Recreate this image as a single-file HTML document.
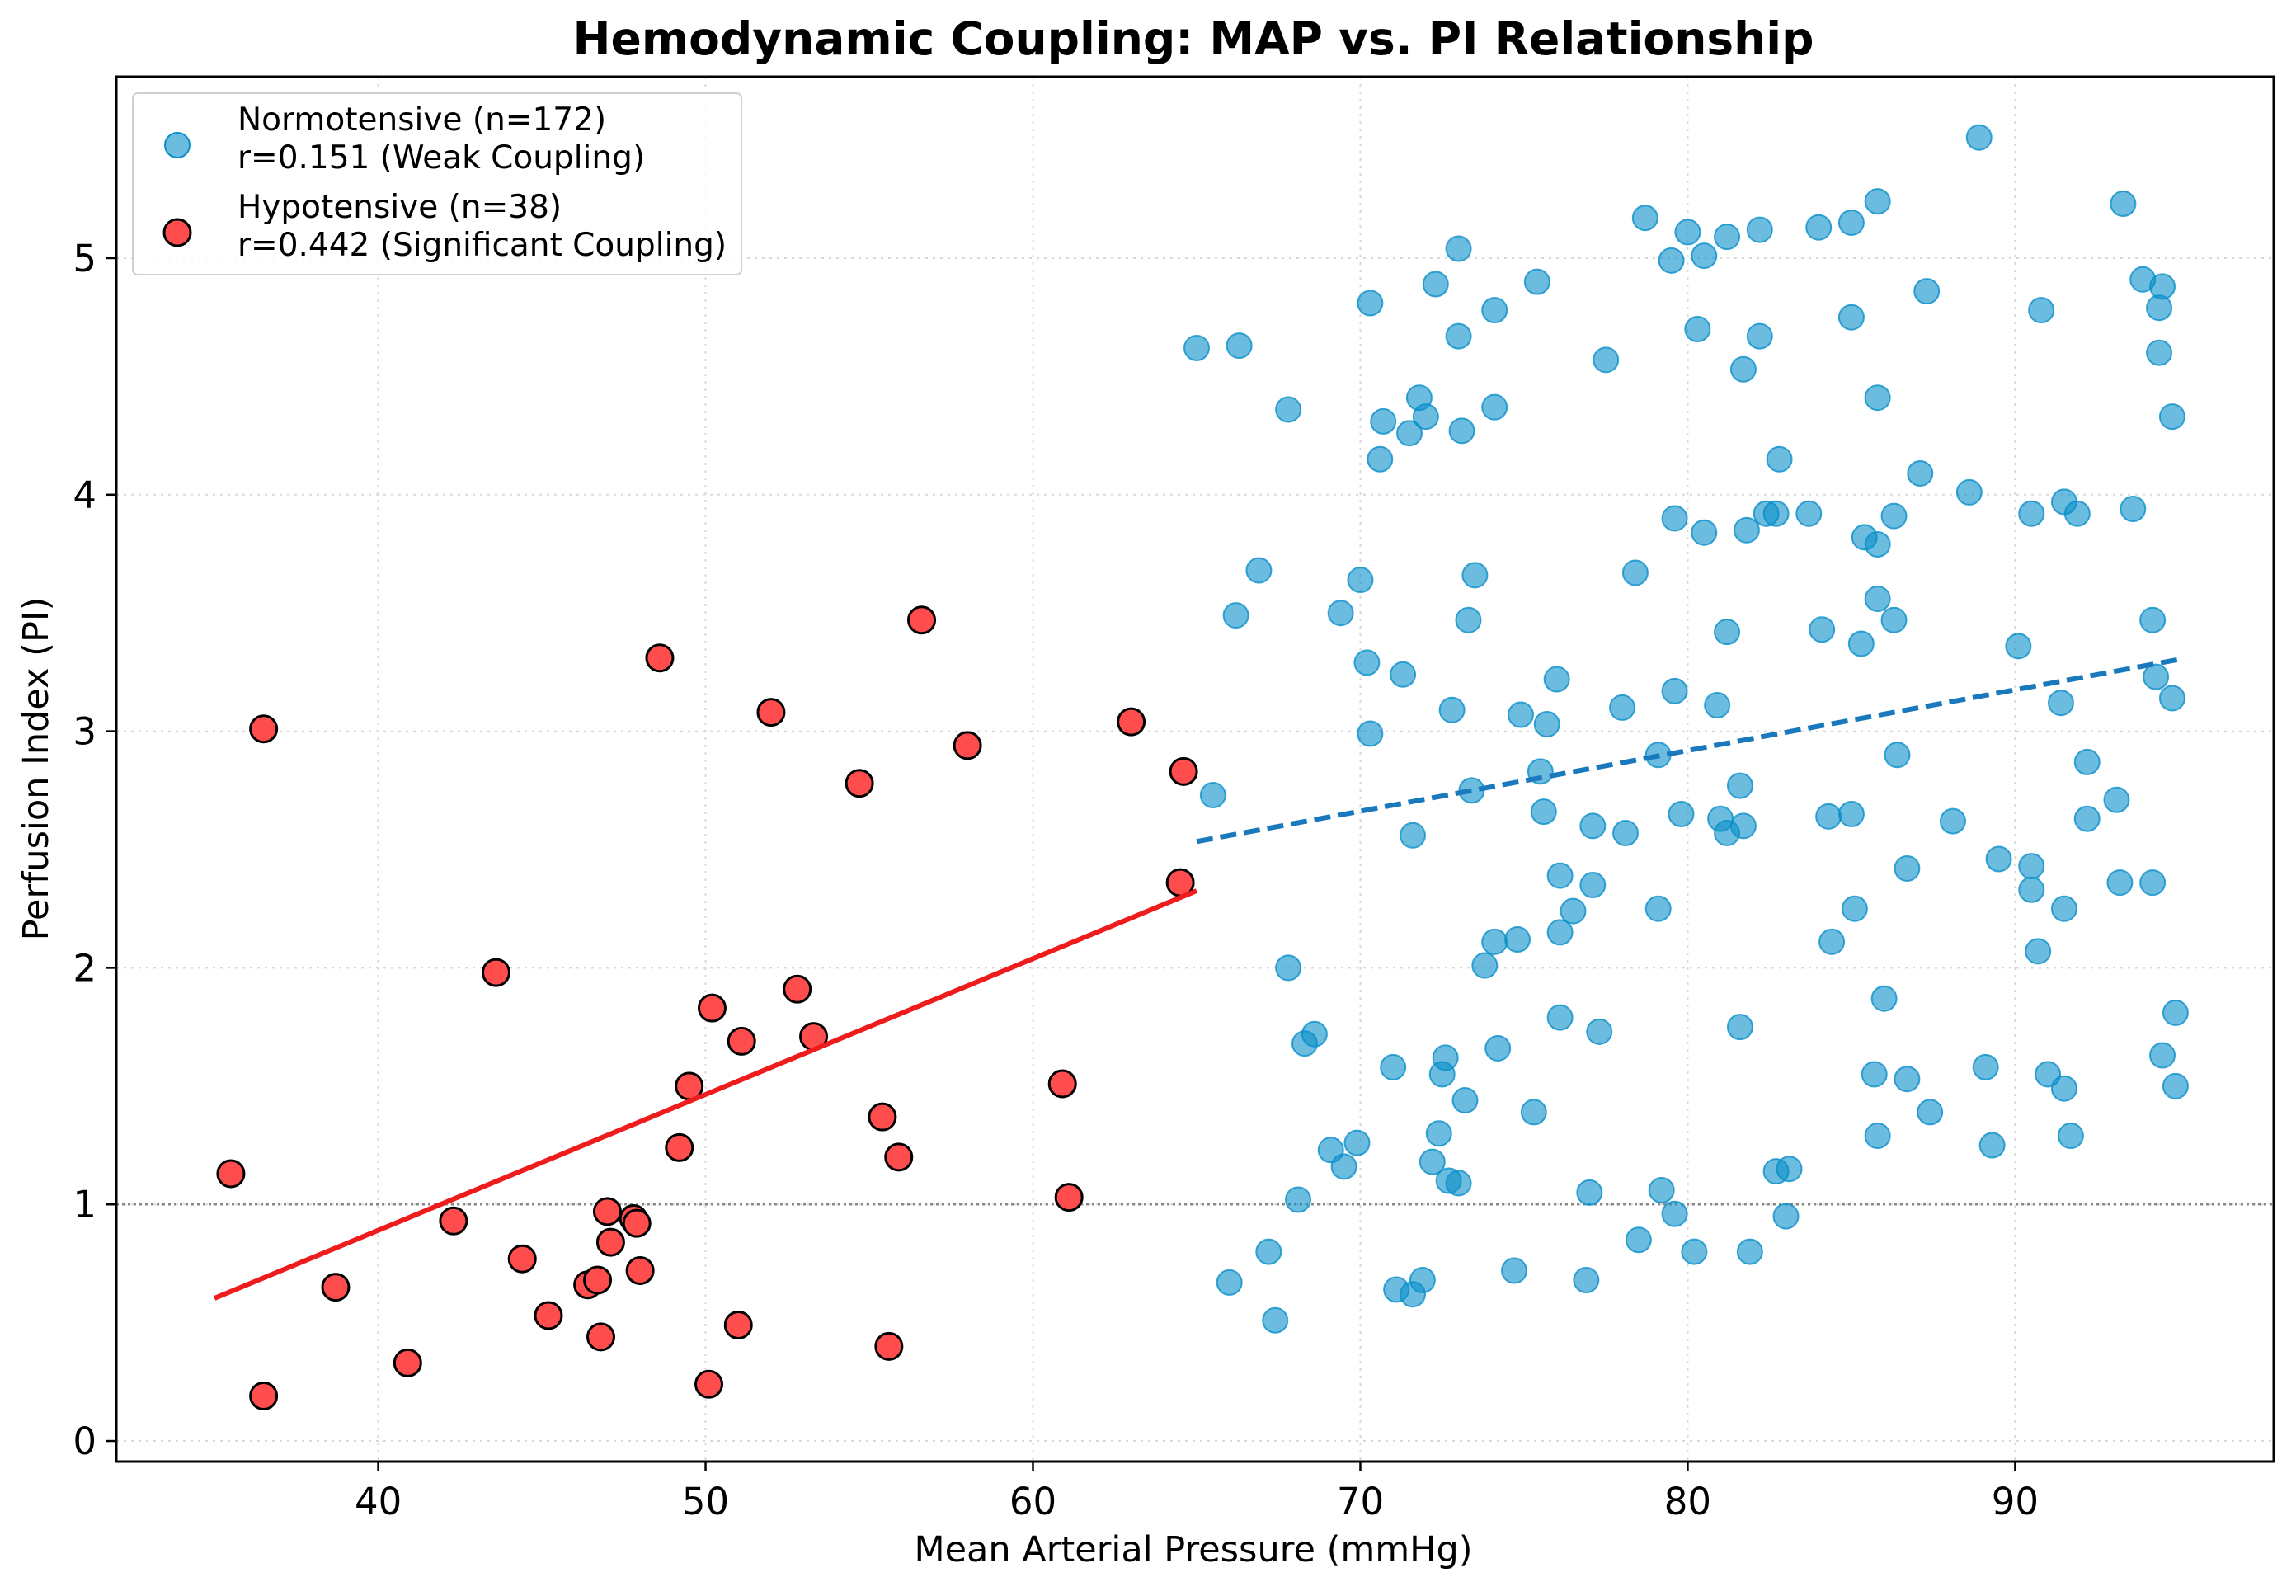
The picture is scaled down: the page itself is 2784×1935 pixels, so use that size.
<!DOCTYPE html>
<html><head><meta charset="utf-8"><style>
html,body{margin:0;padding:0;background:#fff}
svg{display:block;font-family:"DejaVu Sans","Liberation Sans",sans-serif}
</style></head><body>
<svg id="chart" width="2784" height="1935" viewBox="0 0 2784 1935">
<rect x="0" y="0" width="2784" height="1935" fill="#fff"/>
<g id="grid"></g>
<g id="marks"></g>
<g id="axes"></g>
<text x="1447" y="66" text-anchor="middle" font-size="55" font-weight="bold">Hemodynamic Coupling: MAP vs. PI Relationship</text>
<text x="1447" y="1893" text-anchor="middle" font-size="43">Mean Arterial Pressure (mmHg)</text>
<text x="0" y="0" transform="translate(58,932) rotate(-90)" text-anchor="middle" font-size="43">Perfusion Index (PI)</text>
<g>
<rect x="161" y="113" width="738" height="220" rx="6" fill="#fff" fill-opacity="0.85" stroke="#d0d0d0" stroke-width="2"/>
<circle cx="215" cy="176" r="15" fill="#0a8fc9" fill-opacity="0.6" stroke="#0a8fc9" stroke-width="2"/>
<text x="288" y="158" font-size="39">Normotensive (n=172)</text>
<text x="288" y="204" font-size="39">r=0.151 (Weak Coupling)</text>
<circle cx="215" cy="282" r="16" fill="#ff4d4d" stroke="#000" stroke-width="3"/>
<text x="288" y="264" font-size="39">Hypotensive (n=38)</text>
<text x="288" y="310" font-size="39">r=0.442 (Significant Coupling)</text>
</g>
</svg>
<script>
const xTicks=[40,50,60,70,80,90];
const yTicks=[0,1,2,3,4,5];
const redX=[35.5,36.5,36.5,38.7,40.9,42.3,43.6,44.4,45.2,46.4,46.7,46.8,47.0,47.1,47.8,47.9,48.0,48.6,49.2,49.5,50.1,50.2,51.0,51.1,52.0,52.8,53.3,54.7,55.4,55.6,55.9,56.6,58.0,60.9,61.1,63.0,64.5,64.6];
const redY=[1.13,3.01,0.19,0.65,0.33,0.93,1.98,0.77,0.53,0.66,0.68,0.44,0.97,0.84,0.94,0.92,0.72,3.31,1.24,1.50,0.24,1.83,0.49,1.69,3.08,1.91,1.71,2.78,1.37,0.40,1.20,3.47,2.94,1.51,1.03,3.04,2.36,2.83];
const blueX=[65.0,66.3,67.8,65.5,66.2,66.9,66.0,67.2,67.4,67.8,68.1,68.3,68.6,69.1,69.4,69.5,69.9,70.0,70.2,70.3,70.3,70.6,70.7,71.0,71.1,71.3,71.5,71.6,71.6,71.8,71.9,72.0,72.2,72.3,72.4,72.5,72.6,72.7,72.8,73.0,73.0,73.0,73.1,73.2,73.3,73.4,73.5,73.8,74.1,74.1,74.1,74.2,74.8,74.7,74.9,75.3,75.4,75.5,75.6,75.7,76.0,76.1,76.1,76.1,76.5,76.9,77.0,77.1,77.1,77.3,77.5,78.0,78.1,78.4,78.5,78.7,79.1,79.1,79.2,79.5,79.6,79.6,79.6,79.8,80.0,80.2,80.3,80.5,80.5,80.9,81.0,81.2,81.2,81.2,81.6,81.6,81.7,81.7,81.8,81.9,82.2,82.2,82.4,82.7,82.7,82.8,83.0,83.1,83.7,84.0,84.1,84.3,84.4,85.0,85.0,85.0,85.1,85.3,85.4,85.7,85.8,85.8,85.8,85.8,85.8,86.0,86.3,86.4,86.3,86.7,86.7,87.1,87.3,87.4,88.1,88.6,88.9,89.1,89.3,89.5,90.1,90.5,90.5,90.5,90.7,90.8,91.0,91.4,91.5,91.5,91.5,91.7,91.9,92.2,92.2,93.1,93.2,93.3,93.6,93.9,94.2,94.2,94.3,94.4,94.4,94.5,94.5,94.8,94.8,94.9,94.9];
const blueY=[4.62,4.63,4.36,2.73,3.49,3.68,0.67,0.80,0.51,2.00,1.02,1.68,1.72,1.23,3.50,1.16,1.26,3.64,3.29,4.81,2.99,4.15,4.31,1.58,0.64,3.24,4.26,0.62,2.56,4.41,0.68,4.33,1.18,4.89,1.30,1.55,1.62,1.10,3.09,4.67,1.09,5.04,4.27,1.44,3.47,2.75,3.66,2.01,2.11,4.78,4.37,1.66,2.12,0.72,3.07,1.39,4.90,2.83,2.66,3.03,3.22,2.39,1.79,2.15,2.24,0.68,1.05,2.60,2.35,1.73,4.57,3.10,2.57,3.67,0.85,5.17,2.90,2.25,1.06,4.99,3.90,3.17,0.96,2.65,5.11,0.80,4.70,5.01,3.84,3.11,2.63,2.57,5.09,3.42,2.77,1.75,4.53,2.60,3.85,0.80,5.12,4.67,3.92,3.92,1.14,4.15,0.95,1.15,3.92,5.13,3.43,2.64,2.11,5.15,4.75,2.65,2.25,3.37,3.82,1.55,5.24,4.41,3.79,3.56,1.29,1.87,3.47,2.90,3.91,2.42,1.53,4.09,4.86,1.39,2.62,4.01,5.51,1.58,1.25,2.46,3.36,3.92,2.43,2.33,2.07,4.78,1.55,3.12,3.97,1.49,2.25,1.29,3.92,2.87,2.63,2.71,2.36,5.23,3.94,4.91,2.36,3.47,3.23,4.79,4.60,4.88,1.63,4.33,3.14,1.81,1.50];
const redFitRange=[35,65];
const blueFitRange=[65,95];

const NS="http://www.w3.org/2000/svg";
const L=141,R=2757,T=93,B=1772;
const xMin=32.0,xMax=97.9,yMin=-0.087,yMax=5.767;
function sx(v){return L+(v-xMin)/(xMax-xMin)*(R-L);}
function sy(v){return B-(v-yMin)/(yMax-yMin)*(B-T);}
function mk(tag,attrs,parent){const e=document.createElementNS(NS,tag);for(const k in attrs)e.setAttribute(k,attrs[k]);parent.appendChild(e);return e;}
function fit(xs,ys){const n=xs.length;let mx=0,my=0;for(let i=0;i<n;i++){mx+=xs[i];my+=ys[i];}mx/=n;my/=n;let sxy=0,sxx=0;for(let i=0;i<n;i++){sxy+=(xs[i]-mx)*(ys[i]-my);sxx+=(xs[i]-mx)**2;}const b=sxy/sxx;return [b,my-b*mx];}

const grid=document.getElementById('grid'),axes=document.getElementById('axes'),marks=document.getElementById('marks');
xTicks.forEach(t=>{
  const g=mk('line',{x1:sx(t),x2:sx(t),y1:T,y2:B,stroke:'#d8d8d8','stroke-width':2,'stroke-dasharray':'3,6'},grid);
  
  
  const tk=mk('line',{x1:sx(t),x2:sx(t),y1:B,y2:B+12,stroke:'#000','stroke-width':2.5},axes);
  
  
  const tl=mk('text',{x:sx(t),y:1836,'text-anchor':'middle','font-size':45},axes);
  tl.textContent=t;
  
  
});
yTicks.forEach(t=>{
  const g=mk('line',{x1:L,x2:R,y1:sy(t),y2:sy(t),stroke:'#d8d8d8','stroke-width':2,'stroke-dasharray':'3,6'},grid);
  
  
  const tk=mk('line',{x1:L-12,x2:L,y1:sy(t),y2:sy(t),stroke:'#000','stroke-width':2.5},axes);
  
  
  const tl=mk('text',{x:L-24,y:sy(t)+16,'text-anchor':'end','font-size':45},axes);
  tl.textContent=t;
  
  
});
const frame=mk('rect',{x:L,y:T,width:R-L,height:B-T,fill:'none',stroke:'#000','stroke-width':3},axes);



const ref=mk('line',{x1:L,x2:R,y1:sy(1),y2:sy(1),stroke:'#888','stroke-width':2.5,'stroke-dasharray':'3,4'},marks);



for(let i=0;i<blueX.length;i++){
  const c=mk('circle',{cx:sx(blueX[i]),cy:sy(blueY[i]),r:15,fill:'#0a8fc9','fill-opacity':0.6,stroke:'#0a8fc9','stroke-opacity':0.8,'stroke-width':2},marks);
  
  
}
for(let i=0;i<redX.length;i++){
  const c=mk('circle',{cx:sx(redX[i]),cy:sy(redY[i]),r:16,fill:'#ff4d4d',stroke:'#000','stroke-width':3},marks);
  
  
}
const rf=fit(redX,redY);
const rl=mk('line',{x1:sx(redFitRange[0]),y1:sy(rf[0]*redFitRange[0]+rf[1]),x2:sx(redFitRange[1]),y2:sy(rf[0]*redFitRange[1]+rf[1]),stroke:'#ee1c1c','stroke-width':6},marks);


const bf=fit(blueX,blueY);
const bl=mk('line',{x1:sx(blueFitRange[0]),y1:sy(bf[0]*blueFitRange[0]+bf[1]),x2:sx(blueFitRange[1]),y2:sy(bf[0]*blueFitRange[1]+bf[1]),stroke:'#1a78bd','stroke-width':6,'stroke-dasharray':'20,9'},marks);


</script>
</body></html>
